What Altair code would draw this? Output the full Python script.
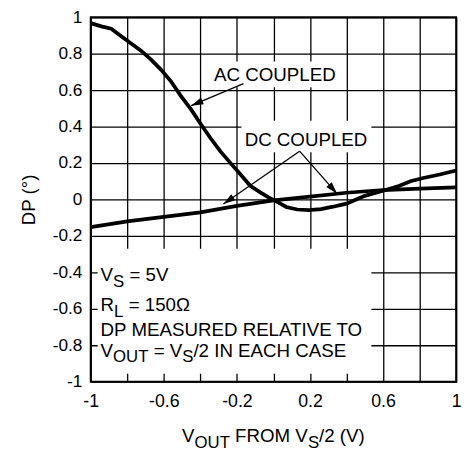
import math
import altair as alt
import pandas as pd

# ---------------- data ----------------
ac_x = [-1.0, -0.942, -0.888, -0.833, -0.779, -0.725, -0.670, -0.616, -0.562, -0.507,
        -0.453, -0.399, -0.344, -0.290, -0.236, -0.181, -0.127, -0.072, -0.027, 0.018,
        0.07, 0.13, 0.195, 0.26, 0.32, 0.40, 0.45, 0.50, 0.60, 0.69, 0.75, 0.82, 0.91, 1.0]
ac_y = [0.968, 0.95, 0.937, 0.896, 0.856, 0.817, 0.767, 0.713, 0.650, 0.569,
        0.497, 0.416, 0.336, 0.264, 0.201, 0.138, 0.075, 0.039, 0.012, -0.012,
        -0.041, -0.055, -0.059, -0.053, -0.041, -0.023, -0.002, 0.02, 0.048, 0.075, 0.10, 0.118, 0.137, 0.159]

dc_x = [-1.0, -0.8, -0.6, -0.4, -0.2, 0.0, 0.2, 0.4, 0.6, 0.8, 1.0]
dc_y = [-0.152, -0.12, -0.096, -0.071, -0.035, -0.005, 0.016, 0.037, 0.052, 0.06, 0.066]

grid_x = [-1, -0.8, -0.6, -0.4, -0.2, 0, 0.2, 0.4, 0.6, 0.8, 1]
label_x = [-1, -0.6, -0.2, 0.2, 0.6, 1]
grid_y = [-1, -0.8, -0.6, -0.4, -0.2, 0, 0.2, 0.4, 0.6, 0.8, 1]

# annotation arrows: start (x, y) -> tip (x, y)
arrow_x0 = [-0.164, 0.143, 0.143]
arrow_y0 = [0.636, 0.265, 0.265]
arrow_x1 = [-0.450, -0.274, 0.348]
arrow_y1 = [0.515, -0.025, 0.032]

# white label boxes
box_x0 = [-0.348, -0.175, -0.962]
box_x1 = [0.364, 0.536, 0.536]
box_y0 = [0.616, 0.259, -0.957]
box_y1 = [0.757, 0.432, -0.27]

W_PLOT, H_PLOT = 371, 370
MAIN, SUB = 19, 17
FONT = "Liberation Sans"

# Helvetica / Arial advance widths (per 1000 em)
CW = {' ': 278, '=': 584, '/': 278, '(': 333, ')': 333, '.': 278, '°': 400,
      'A': 667, 'C': 722, 'D': 722, 'E': 667, 'F': 611, 'H': 722, 'I': 278, 'L': 556,
      'M': 833, 'N': 722, 'O': 778, 'P': 667, 'R': 722, 'S': 667, 'T': 611, 'U': 722,
      'V': 667, 'Ω': 770}
for d in '0123456789':
    CW[d] = 556

PXU = W_PLOT / 2.0  # px per data unit on x


def tw(s, size):
    return sum(CW.get(c, 600) for c in s) / 1000.0 * size


def compose(parts, x0, y0):
    rows = []
    x = x0
    for t, sub in parts:
        size = SUB if sub else MAIN
        lead = len(t) - len(t.lstrip(' '))
        x += tw(' ' * lead, size) / PXU
        s = t.lstrip(' ')
        rows.append(dict(text=s, x=x, y=y0, sub=sub))
        x += tw(s, size) / PXU
    return rows


seg_rows = []
seg_rows += compose([("V", 0), ("S", 1), (" = 5V", 0)], -0.946, -0.449)
seg_rows += compose([("R", 0), ("L", 1), (" = 150Ω", 0)], -0.946, -0.612)
seg_rows += compose([("DP MEASURED RELATIVE TO", 0)], -0.946, -0.747)
seg_rows += compose([("V", 0), ("OUT", 1), (" = V", 0), ("S", 1), ("/2 IN EACH CASE", 0)], -0.946, -0.862)

title_parts = [("V", 0), ("OUT", 1), (" FROM V", 0), ("S", 1), ("/2 (V)", 0)]
title_w = sum(tw(t, SUB if s else MAIN) for t, s in title_parts) / PXU
seg_rows += compose(title_parts, 0 - title_w / 2, -1.33)

segs = pd.DataFrame(seg_rows)

lines = pd.concat([
    pd.DataFrame({"x": ac_x, "y": ac_y, "series": "AC"}),
    pd.DataFrame({"x": dc_x, "y": dc_y, "series": "DC"}),
])

arrows = pd.DataFrame({"x": arrow_x0, "y": arrow_y0, "x2": arrow_x1, "y2": arrow_y1})
arrows["angle"] = [
    (math.degrees(math.atan2((b - a) * PXU, (d - c) * (H_PLOT / 2.0))) + 360) % 360
    for a, b, c, d in zip(arrow_x0, arrow_x1, arrow_y0, arrow_y1)
]

boxes = pd.DataFrame({"x": box_x0, "x2": box_x1, "y": box_y0, "y2": box_y1})

labels = pd.DataFrame({
    "text": ["AC COUPLED", "DC COUPLED"],
    "x": [0.008, 0.178],
    "y": [0.649, 0.296],
})

# ---------------- chart ----------------
sx = alt.Scale(domain=[-1, 1], nice=False, zero=False)
sy = alt.Scale(domain=[-1, 1], nice=False, zero=False)

label_list = ",".join(str(v) for v in label_x)
x_axis = alt.Axis(values=grid_x, grid=True, ticks=False, domain=False, title=None,
                  labelExpr=f"indexof([{label_list}], datum.value) >= 0 ? toString(datum.value) : ''",
                  labelPadding=11, labelFontSize=18, labelFlush=False, labelOverlap=False,
                  gridColor="black", gridWidth=1.3, gridOpacity=1)
y_axis = alt.Axis(values=grid_y, grid=True, ticks=False, domain=False, title="DP (°)",
                  labelExpr="toString(datum.value)", labelPadding=9, labelFontSize=17.5,
                  labelOverlap=False, titleFontSize=19, titleFontWeight="normal",
                  titlePadding=14, gridColor="black", gridWidth=1.3, gridOpacity=1)


def X(field):
    return alt.X(field, scale=sx, axis=x_axis)


def Y(field):
    return alt.Y(field, scale=sy, axis=y_axis)


curves = alt.Chart(lines).mark_line(color="black", strokeWidth=3.8).encode(
    x=X("x:Q"), y=Y("y:Q"), detail="series:N", order="x:Q",
)

rects = alt.Chart(boxes).mark_rect(fill="white").encode(
    x=X("x:Q"), x2="x2:Q", y=Y("y:Q"), y2="y2:Q",
)

shafts = alt.Chart(arrows).mark_rule(color="black", strokeWidth=1.3).encode(
    x=X("x:Q"), x2="x2:Q", y=Y("y:Q"), y2="y2:Q",
)

heads = alt.Chart(arrows).mark_point(
    shape="M0,0 L0.6,2 L-0.6,2 Z", filled=True, color="black", size=150, opacity=1, strokeWidth=0
).encode(
    x=X("x2:Q"), y=Y("y2:Q"), angle=alt.Angle("angle:Q", scale=None),
)

ann = alt.Chart(labels).mark_text(font=FONT, fontSize=MAIN, color="black",
                                   align="center", baseline="alphabetic").encode(
    x=X("x:Q"), y=Y("y:Q"), text="text:N",
)

main_txt = alt.Chart(segs).transform_filter("datum.sub == 0").mark_text(
    font=FONT, fontSize=MAIN, color="black", align="left", baseline="alphabetic"
).encode(
    x=X("x:Q"), y=Y("y:Q"), text="text:N",
)

sub_txt = alt.Chart(segs).transform_filter("datum.sub == 1").mark_text(
    font=FONT, fontSize=SUB, color="black", align="left", baseline="alphabetic", dy=6
).encode(
    x=X("x:Q"), y=Y("y:Q"), text="text:N",
)

chart = alt.layer(rects, curves, shafts, heads, ann, main_txt, sub_txt).properties(
    width=W_PLOT, height=H_PLOT,
    autosize=alt.AutoSizeParams(type="none"),
    padding={"left": 84, "top": 6, "right": 10, "bottom": 70},
    background="white",
).configure_view(
    stroke="black", strokeWidth=2
).configure_axis(
    labelFont=FONT, titleFont=FONT, labelColor="black", titleColor="black"
)

chart.save("out.html", embed_options={"renderer": "svg", "actions": False})
